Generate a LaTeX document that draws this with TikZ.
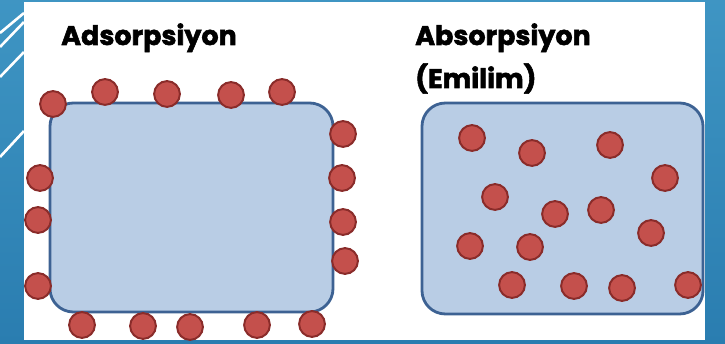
\documentclass[tikz,border=0pt]{standalone}
\usepackage{fontspec}
\usepackage{tikz}
\usetikzlibrary{positioning, backgrounds, shadings}
\newfontfamily\headfont{Poppins}[BoldFeatures={FakeBold=2}]

\definecolor{slideblue}{HTML}{2E8CBE}
\definecolor{slidebluedark}{HTML}{2A7DB0}
\definecolor{vesselfill}{HTML}{B9CDE5}
\definecolor{vesselline}{HTML}{3D6293}
\definecolor{particlefill}{HTML}{C4504C}
\definecolor{particleline}{HTML}{8A2C2A}

\tikzset{
	vessel/.style={draw=vesselline, fill=vesselfill, line width=2.4pt,
		rounded corners=20pt, inner sep=0pt}
}
\tikzset{
	particle/.style={circle, draw=particleline, fill=particlefill,
		line width=1.7pt, minimum size=22pt, inner sep=0pt}
}
\tikzset{
	headtext/.style={font=\headfont\bfseries\fontsize{23}{26}\selectfont, inner sep=0pt}
}

\begin{document}
\begin{tikzpicture}[x=0.03cm, y=-0.03cm]
      \useasboundingbox (0,0) rectangle (725,344);
      % slide background
      \shade[top color=slideblue!92!white, bottom color=slidebluedark] (0,0) rectangle (725,344);
      \foreach \ya/\yb in {33/13, 47/22, 77/52, 157/131}
        \draw[white, line width=2.2pt] (0,\ya) -- (24,\yb);
      \fill[white] (24,2) rectangle (705,340);

      % labels
      \node[headtext, anchor=base west] (adslabel) at (61,45) {Adsorpsiyon};
      \node[headtext, anchor=base west] (abslabel) at (415,45) {Absorpsiyon};
      \node[headtext, anchor=base west] (emlabel)  at (415,88) {(Emilim)};

      % vessels
      \node[vessel, minimum width=241.6pt, minimum height=178.4pt] (adsbox) at (191.5,207.5) {};
      \node[vessel, minimum width=239.9pt, minimum height=180.1pt] (absbox) at (562.5,208.5) {};

      % particles on the surface
      \foreach \x/\y [count=\i] in {53/104, 105/92, 167/94, 231/95, 282/92,
          343/134, 342/178, 343/222, 345/261,
          40/178, 38/220, 38/286,
          82/325, 143/326, 190/327, 257/325, 312/324}
        \node[particle] (ads\i) at (\x,\y) {};

      % particles inside
      \foreach \x/\y [count=\i] in {472/138, 532/153, 610/145, 665/178,
          495/197, 555/214, 601/210, 651/233,
          470/246, 530/247, 512/285, 574/286, 622/288, 688/285}
        \node[particle] (abs\i) at (\x,\y) {};
    \end{tikzpicture}
\end{document}
